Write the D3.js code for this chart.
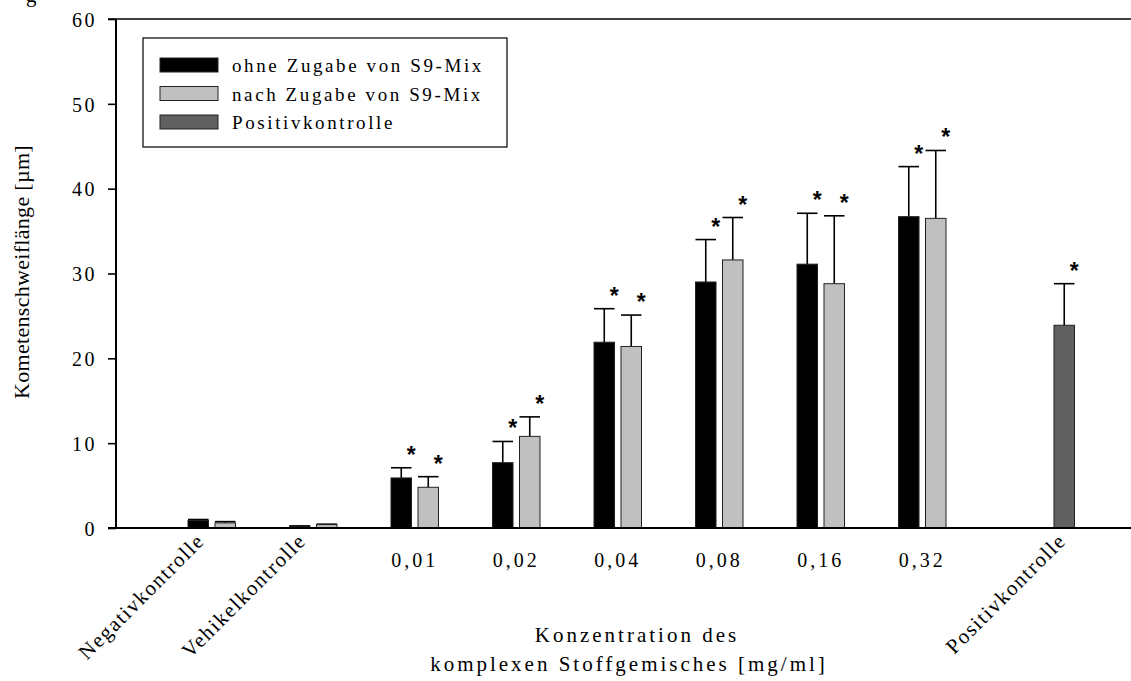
<!DOCTYPE html>
<html>
<head>
<meta charset="utf-8">
<script src="https://cdn.jsdelivr.net/npm/d3@7"></script>
<style>
  html, body { margin: 0; padding: 0; background: #fff; }
  svg { display: block; }
  svg text { font-family: "Liberation Serif", "Times New Roman", "DejaVu Serif", serif; fill: #000; }
</style>
</head>
<body>
<svg id="chart" width="1131" height="681"></svg>
<script>
// Categories along the x axis
const categories = ["Negativkontrolle", "Vehikelkontrolle", "0,01", "0,02", "0,04", "0,08", "0,16", "0,32", "Positivkontrolle"];
const rotatedCategories = ["Negativkontrolle", "Vehikelkontrolle", "Positivkontrolle"];

// Series names (legend)
const seriesNames = ["ohne Zugabe von S9-Mix", "nach Zugabe von S9-Mix", "Positivkontrolle"];
const seriesColors = ["#000000", "#c0c0c0", "#606060"];

// Mean comet tail length [µm] and upper standard deviation
const ohneS9 = [0.9, 0.2, 5.9, 7.7, 21.9, 29.0, 31.1, 36.7, null];
const ohneS9Err = [0.1, 0.05, 1.2, 2.5, 3.95, 5.0, 6.0, 5.9, null];
const nachS9 = [0.6, 0.4, 4.8, 10.8, 21.4, 31.6, 28.8, 36.5, null];
const nachS9Err = [0.15, 0.05, 1.25, 2.3, 3.7, 5.0, 8.0, 8.0, null];
const positiv = [null, null, null, null, null, null, null, null, 23.9];
const positivErr = [null, null, null, null, null, null, null, null, 4.9];

// Significance markers
const ohneS9Sig = [false, false, true, true, true, true, true, true, false];
const nachS9Sig = [false, false, true, true, true, true, true, true, false];
const positivSig = [false, false, false, false, false, false, false, false, true];

// Y axis ticks
const yTicks = [0, 10, 20, 30, 40, 50, 60];

const SERIF = "'Liberation Serif', 'Times New Roman', 'DejaVu Serif', serif";
const svg = d3.select("#chart");
const axisX0 = 116, axisY0 = 528, axisTop = 19, axisRight = 1131;

const y = d3.scaleLinear().domain([0, 60]).range([axisY0, axisTop]);

const x = d3.scaleBand()
  .domain(categories)
  .range([188, 1074.5])
  .paddingInner(0.266)
  .paddingOuter(0);

const xSlot = d3.scaleBand()
  .domain([0, 1, 2])
  .range([0, x.bandwidth()])
  .paddingInner(0.24)
  .paddingOuter(0);

const series = [
  { vals: ohneS9, err: ohneS9Err, sig: ohneS9Sig, slot: 0, color: seriesColors[0] },
  { vals: nachS9, err: nachS9Err, sig: nachS9Sig, slot: 1, color: seriesColors[1] },
  { vals: positiv, err: positivErr, sig: positivSig, slot: 2, color: seriesColors[2] }
];

// Bars, error bars and asterisks
const gBars = svg.append("g");
series.forEach(s => {
  const recs = categories.map((c, i) => ({ c, v: s.vals[i], e: s.err[i], sig: s.sig[i] }))
    .filter(d => d.v != null);
  const bw = xSlot.bandwidth();
  const bx = d => x(d.c) + xSlot(s.slot);

  // error bars (upper only)
  gBars.selectAll(null).data(recs).enter().append("line")
    .attr("x1", d => bx(d) + bw / 2).attr("x2", d => bx(d) + bw / 2)
    .attr("y1", d => y(d.v)).attr("y2", d => y(d.v + d.e))
    .attr("stroke", "#000").attr("stroke-width", 1.6);
  gBars.selectAll(null).data(recs).enter().append("line")
    .attr("x1", d => bx(d)).attr("x2", d => bx(d) + bw)
    .attr("y1", d => y(d.v + d.e)).attr("y2", d => y(d.v + d.e))
    .attr("stroke", "#000").attr("stroke-width", 1.6);

  gBars.selectAll(null).data(recs).enter().append("rect")
    .attr("x", d => bx(d))
    .attr("y", d => y(d.v))
    .attr("width", bw)
    .attr("height", d => y(0) - y(d.v))
    .attr("fill", s.color)
    .attr("stroke", "#222")
    .attr("stroke-width", 1);

  gBars.selectAll(null).data(recs.filter(d => d.sig)).enter().append("text")
    .attr("x", d => bx(d) + bw / 2 + 10)
    .attr("y", d => y(d.v + d.e) - 5)
    .attr("text-anchor", "middle")
    .style("font-family", "'Liberation Sans', 'DejaVu Sans', sans-serif")
    .style("font-size", "23px")
    .style("font-weight", "bold")
    .text("*");
});

// Y axis
const yAxis = d3.axisLeft(y).tickValues(yTicks).tickSize(8).tickPadding(11).tickFormat(d3.format("d"));
const gy = svg.append("g").attr("transform", `translate(${axisX0},0)`).call(yAxis);
gy.select(".domain").remove();
gy.selectAll(".tick line").attr("stroke", "#000").attr("stroke-width", 1.6);
gy.selectAll(".tick text")
  .style("font-family", SERIF)
  .style("font-size", "20px")
  .style("letter-spacing", "2.5px")
  .attr("dy", "0.36em");

svg.append("line").attr("x1", axisX0).attr("x2", axisX0).attr("y1", axisTop).attr("y2", axisY0)
  .attr("stroke", "#000").attr("stroke-width", 2);
svg.append("line").attr("x1", axisX0 - 8).attr("x2", axisRight).attr("y1", axisY0).attr("y2", axisY0)
  .attr("stroke", "#000").attr("stroke-width", 2);
svg.append("line").attr("x1", axisX0 - 8).attr("x2", axisRight).attr("y1", axisTop).attr("y2", axisTop)
  .attr("stroke", "#000").attr("stroke-width", 1.6);

// X category labels
const groupCenter = c => x(c) + xSlot(0) + (xSlot(1) + xSlot.bandwidth() - xSlot(0)) / 2;
categories.forEach(c => {
  if (rotatedCategories.includes(c)) {
    const ax = c === "Positivkontrolle"
      ? x(c) + xSlot(2) + xSlot.bandwidth() / 2 + 3
      : groupCenter(c) - 6;
    svg.append("text")
      .attr("transform", `translate(${ax},${542}) rotate(-45)`)
      .attr("text-anchor", "end")
      .style("font-family", SERIF)
      .style("font-size", "21px")
      .style("letter-spacing", "1.6px")
      .text(c);
  } else {
    svg.append("text")
      .attr("x", groupCenter(c))
      .attr("y", 567)
      .attr("text-anchor", "middle")
      .style("font-family", SERIF)
      .style("font-size", "20px")
      .style("letter-spacing", "3px")
      .text(c);
  }
});

// Axis titles
svg.append("text")
  .attr("transform", `translate(${29},${272}) rotate(-90)`)
  .attr("text-anchor", "middle")
  .style("font-family", SERIF)
  .style("font-size", "22px")
  .style("letter-spacing", "0.3px")
  .text("Kometenschweiflänge [µm]");

svg.append("text")
  .attr("x", 637).attr("y", 642)
  .attr("text-anchor", "middle")
  .style("font-family", SERIF)
  .style("font-size", "21px")
  .style("letter-spacing", "3px")
  .text("Konzentration des");
svg.append("text")
  .attr("x", 629).attr("y", 671)
  .attr("text-anchor", "middle")
  .style("font-family", SERIF)
  .style("font-size", "21px")
  .style("letter-spacing", "3px")
  .text("komplexen Stoffgemisches [mg/ml]");

// Caption line above the chart (its lower edge shows)
svg.append("text").attr("x", 26).attr("y", 2)
  .style("font-family", SERIF).style("font-size", "21px").text("g");

// Legend
const legend = svg.append("g");
legend.append("rect")
  .attr("x", 143).attr("y", 38).attr("width", 364).attr("height", 109)
  .attr("fill", "#fff").attr("stroke", "#000").attr("stroke-width", 1.2);
seriesNames.forEach((name, i) => {
  const ly = 58 + i * 28.5;
  legend.append("rect")
    .attr("x", 160).attr("y", ly).attr("width", 58).attr("height", 14)
    .attr("fill", seriesColors[i]).attr("stroke", "#222").attr("stroke-width", 1);
  legend.append("text")
    .attr("x", 232).attr("y", ly + 14)
    .style("font-family", SERIF)
    .style("font-size", "19px")
    .style("letter-spacing", "2.6px")
    .text(name);
});
</script>
</body>
</html>
